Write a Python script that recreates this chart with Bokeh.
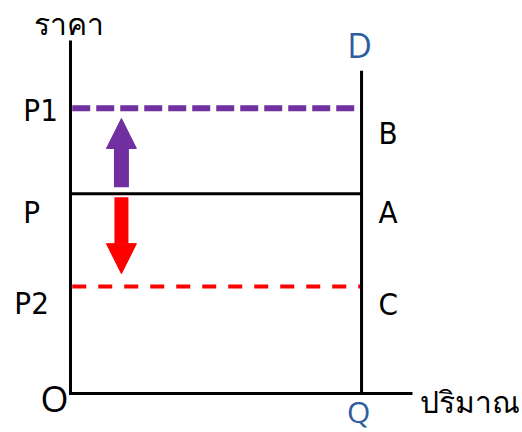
from bokeh.plotting import figure
from bokeh.models import ColumnDataSource, Range1d, Arrow, NormalHead
from bokeh.core.properties import value
from bokeh.embed import file_html
from bokeh.resources import INLINE

# ---- data ----
quantity_Q = 10.0
price_names = ["P1", "P", "P2"]
price_values = [8.0, 5.6, 3.0]
point_names = ["B", "A", "C"]
y_axis_top = 9.9
x_axis_end = 11.75
demand_top = 9.05
arrow_x = 1.75
arrow_up = [5.78, 7.71]     # start, end (price rises P -> P1)
arrow_down = [5.50, 3.36]   # start, end (price falls P -> P2)
y_title = "ราคา"
x_title = "ปริมาณ"

# ---- styles ----
PURPLE = "#7030A0"
RED = "#FF0000"
BLUE = "#2E5D9F"
LAB_FONT = "DejaVu Sans Condensed, Roboto, sans-serif"
BIG_FONT = "Open Sans"

p = figure(width=522, height=432, output_backend="svg", toolbar_location=None,
           x_range=Range1d(-2.405, 15.53), y_range=Range1d(-1.093, 11.018),
           x_axis_type=None, y_axis_type=None, min_border=0)
p.grid.visible = False
p.outline_line_color = None
p.background_fill_color = "white"

# price lines
p.segment(x0=0.06, x1=quantity_Q, y0=price_values[0], y1=price_values[0],
          line_color=PURPLE, line_width=6, line_dash="18 6")
p.segment(x0=0, x1=quantity_Q, y0=price_values[1], y1=price_values[1],
          line_color="black", line_width=3)
p.segment(x0=0.06, x1=quantity_Q, y0=price_values[2], y1=price_values[2],
          line_color=RED, line_width=4, line_dash="14 12")

# demand line
p.segment(x0=quantity_Q, x1=quantity_Q, y0=0, y1=demand_top, line_color="black", line_width=3)

# axes
p.line(x=[0, 0, x_axis_end], y=[y_axis_top, 0, 0], line_color="black", line_width=3,
       line_join="miter")

# arrows
p.add_layout(Arrow(x_start=arrow_x, y_start=arrow_up[0], x_end=arrow_x, y_end=arrow_up[1],
                   line_color=PURPLE, line_width=15,
                   end=NormalHead(size=30, fill_color=PURPLE, line_color=PURPLE, line_width=1)))
p.add_layout(Arrow(x_start=arrow_x, y_start=arrow_down[0], x_end=arrow_x, y_end=arrow_down[1],
                   line_color=RED, line_width=14,
                   end=NormalHead(size=30, fill_color=RED, line_color=RED, line_width=1)))

# labels
left_src = ColumnDataSource(dict(x=[-1.62, -1.62, -1.93], y=[7.95, 5.10, 2.55], t=price_names))
p.text(x="x", y="y", text="t", source=left_src, text_font=value(LAB_FONT),
       text_font_size=value("31px"), text_baseline="middle", text_align="left", text_color="black")
right_src = ColumnDataSource(dict(x=[10.58] * 3, y=[7.30, 5.10, 2.52], t=point_names))
p.text(x="x", y="y", text="t", source=right_src, text_font=value(LAB_FONT),
       text_font_size=value("31px"), text_baseline="middle", text_align="left", text_color="black")

p.text(x=[9.93], y=[9.76], text=["D"], text_font=value(BIG_FONT), text_font_size=value("34px"),
       text_baseline="middle", text_align="center", text_color=BLUE)
p.text(x=[9.9], y=[-0.5], text=["Q"], text_font=value(BIG_FONT), text_font_size=value("30px"),
       text_baseline="middle", text_align="center", text_color=BLUE)
p.text(x=[-0.55], y=[-0.14], text=["O"], text_font=value(BIG_FONT), text_font_size=value("36px"),
       text_baseline="middle", text_align="center", text_color="black")

p.text(x=[-1.27], y=[10.35], text=[y_title], text_font=value("Roboto"), text_font_size=value("30px"),
       text_baseline="middle", text_align="left", text_color="black")
p.text(x=[12.0], y=[-0.22], text=[x_title], text_font=value(BIG_FONT), text_font_size=value("30px"),
       text_baseline="middle", text_align="left", text_color="black")

open("out.html", "w").write(file_html(p, INLINE))
